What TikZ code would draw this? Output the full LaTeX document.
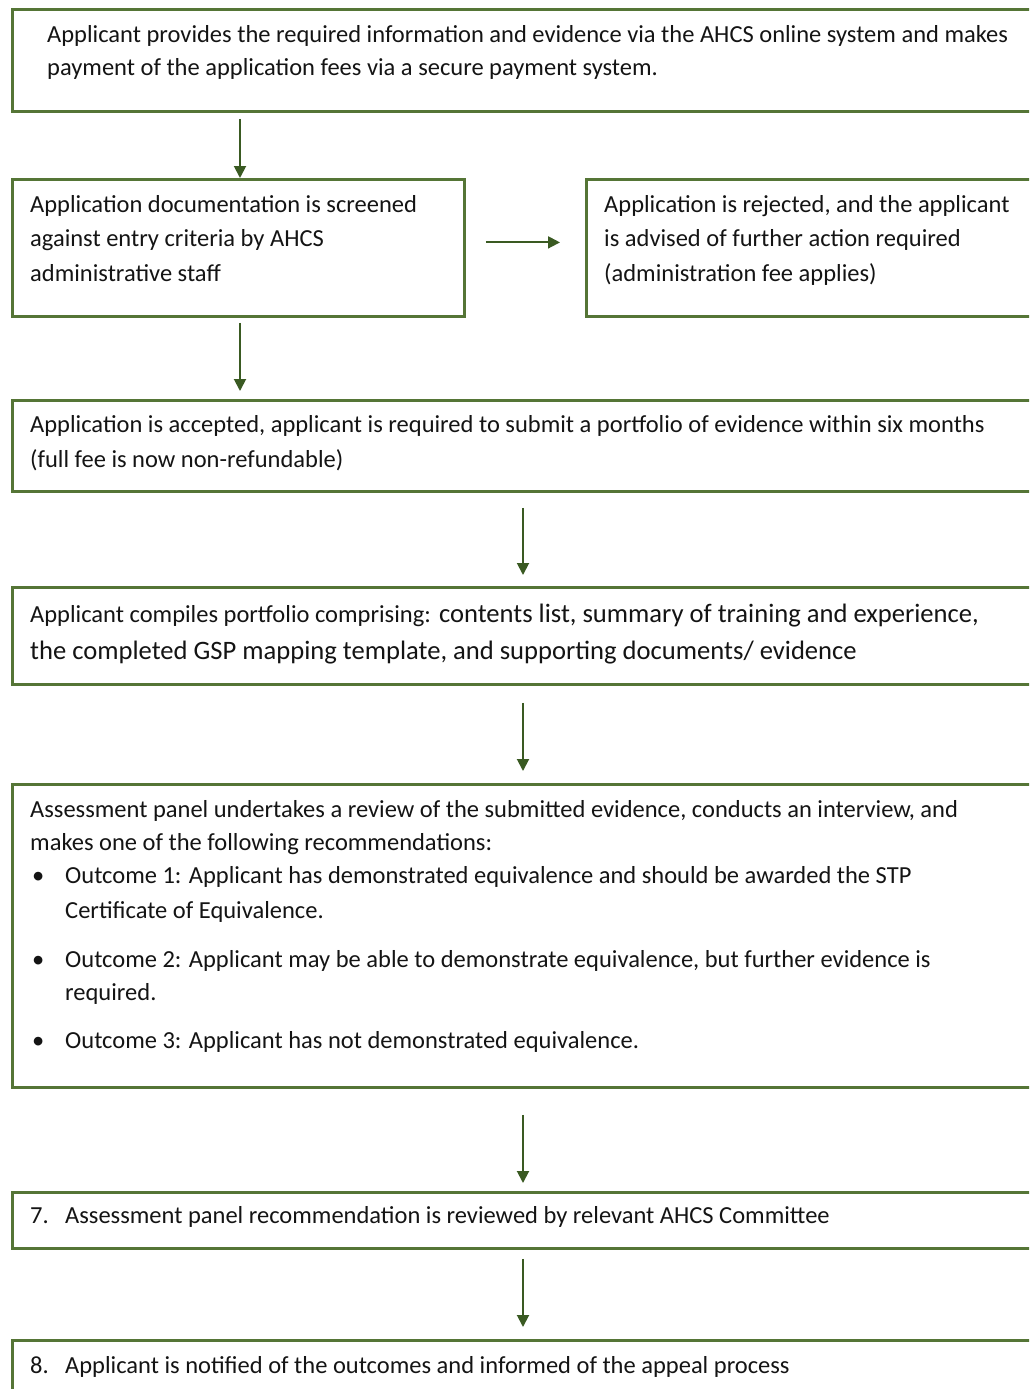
\documentclass[tikz,border=0pt]{standalone}
\usepackage{fontspec}
\setmainfont{Carlito}
\usetikzlibrary{arrows.meta,calc}
\definecolor{boxgreen}{HTML}{557536}
\definecolor{arrowgreen}{HTML}{3A5A22}
\definecolor{txt}{HTML}{141414}
\begin{document}
\begin{tikzpicture}[x=1pt,y=-1pt,
  box/.style={draw=boxgreen, line width=2.8pt, rectangle, inner sep=0pt, anchor=north west},
  arr/.style={draw=arrowgreen, line width=1.9pt, -{Triangle[width=12pt,length=12pt]}},
  tx/.style={anchor=base west, inner sep=0pt, align=left, text=txt, font=\fontsize{24.5}{33}\selectfont}]
\clip (0,0) rectangle (1029,1389);
\useasboundingbox (0,0) rectangle (1029,1389);
\fill[white] (0,0) rectangle (1029,1389);
% boxes
\node[box, minimum width=1040pt, minimum height=102pt] (b1) at (11,8) {};
\node[box, minimum width=452pt, minimum height=137pt] (b2) at (11,178) {};
\node[box, minimum width=460pt, minimum height=137pt] (b3) at (585,178) {};
\node[box, minimum width=1040pt, minimum height=91pt] (b4) at (11,399) {};
\node[box, minimum width=1040pt, minimum height=97pt] (b5) at (11,586) {};
\node[box, minimum width=1040pt, minimum height=303pt] (b6) at (11,783) {};
\node[box, minimum width=1040pt, minimum height=56pt] (b7) at (11,1191) {};
\node[box, minimum width=1040pt, minimum height=80pt] (b8) at (11,1339) {};
% texts (base anchor = baseline of the last line)
\node[tx] (t1) at (47,76) {Applicant provides the required information and evidence via the AHCS online system and makes\\payment of the application fees via a secure payment system.};
\node[tx, font=\fontsize{24.5}{34.5}\selectfont] (t2) at (30,281) {Application documentation is screened\\against entry criteria by AHCS\\administrative staff};
\node[tx, font=\fontsize{24.5}{34.5}\selectfont] (t3) at (604,281) {Application is rejected, and the applicant\\is advised of further action required\\(administration fee applies)};
\node[tx, font=\fontsize{24.5}{35}\selectfont] (t4) at (30,467) {Application is accepted, applicant is required to submit a portfolio of evidence within six months\\(full fee is now non-refundable)};
\node[tx, font=\fontsize{26.6}{37}\selectfont] (t5) at (30,659) {{\fontsize{24.5}{37}\selectfont Applicant compiles portfolio comprising:} contents list, summary of training and experience,\\the completed GSP mapping template, and supporting documents/ evidence};
\node[tx] (t6) at (30,850) {Assessment panel undertakes a review of the submitted evidence, conducts an interview, and\\makes one of the following recommendations:};
\node[tx] (d1) at (32,883) {•};
\node[tx, font=\fontsize{24.5}{35}\selectfont] (o1) at (65,918) {Outcome 1: Applicant has demonstrated equivalence and should be awarded the STP\\Certificate of Equivalence.};
\node[tx] (d2) at (32,967) {•};
\node[tx] (o2) at (65,1000) {Outcome 2: Applicant may be able to demonstrate equivalence, but further evidence is\\required.};
\node[tx] (d3) at (32,1048) {•};
\node[tx] (o3) at (65,1048) {Outcome 3: Applicant has not demonstrated equivalence.};
\node[tx] (n7) at (30,1223) {7.};
\node[tx] (t7) at (65,1223) {Assessment panel recommendation is reviewed by relevant AHCS Committee};
\node[tx] (n8) at (30,1373) {8.};
\node[tx] (t8) at (65,1373) {Applicant is notified of the outcomes and informed of the appeal process};
% connectors
\draw[arr] ($(b1.south west)+(229,6)$) -- ($(b2.north west)+(229,0)$);
\draw[arr] ($(b2.east)+(20,-5.5)$) -- ($(b3.west)+(-25,-5.5)$);
\draw[arr] ($(b2.south west)+(229,5)$) -- ($(b4.north west)+(229,-8)$);
\draw[arr] ($(b4.south west)+(512,15)$) -- ($(b5.north west)+(512,-11)$);
\draw[arr] ($(b5.south west)+(512,17)$) -- ($(b6.north west)+(512,-12)$);
\draw[arr] ($(b6.south west)+(512,26)$) -- ($(b7.north west)+(512,-8)$);
\draw[arr] ($(b7.south west)+(512,9)$) -- ($(b8.north west)+(512,-12)$);
\end{tikzpicture}
\end{document}
